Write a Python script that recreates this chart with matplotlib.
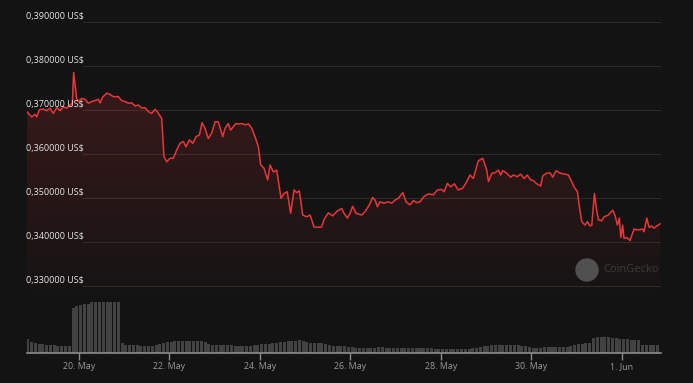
import numpy as np
import matplotlib
matplotlib.use("Agg")
import matplotlib.pyplot as plt
from matplotlib.patches import Ellipse

plt.rcParams['font.family'] = ['Open Sans', 'DejaVu Sans']

# price, hours since 18 May 00:00
price_hours = [20.4, 23.1, 24.8, 25.7, 27.1, 29.2, 31.0, 32.8, 34.5, 36.3, 38.1, 39.8, 41.6, 43.4,
               44.6, 45.3, 46.9, 47.8, 49.6, 51.3, 53.1, 54.9, 56.6, 58.4, 59.3, 60.7, 62.9, 64.6,
               66.4, 69.0, 70.8, 72.6, 74.3, 76.1, 77.9, 79.6, 81.4, 83.2, 84.9, 86.7, 88.5, 89.7,
               90.8, 92.0, 93.2, 94.7, 96.4, 98.2, 100.0, 101.7, 103.5, 104.9, 106.7, 108.5, 110.2,
               112.0, 113.4, 115.0, 116.7, 118.5, 120.3, 122.0, 124.4, 125.6, 127.3, 128.6, 130.0,
               131.4, 132.7, 134.5, 136.2, 138.0, 139.8, 141.5, 143.3, 144.5, 146.3, 148.2, 149.5,
               151.2, 153.0, 155.3, 156.9, 158.6, 160.4, 162.2, 163.6, 165.0, 166.8, 168.9, 170.7,
               172.8, 175.1, 176.9, 178.1, 180.4, 182.7, 184.8, 187.5, 188.7, 190.5, 191.9, 193.3,
               195.1, 198.1, 199.9, 202.1, 203.9, 205.2, 206.4, 207.8, 209.9, 212.2, 214.0, 215.8,
               217.5, 219.9, 221.6, 223.7, 225.5, 227.3, 229.0, 231.1, 233.4, 236.1, 238.2, 240.5,
               241.8, 243.5, 245.3, 247.2, 249.3, 251.7, 253.8, 255.5, 257.3, 259.9, 262.3, 264.4,
               265.3, 267.1, 268.8, 270.6, 271.8, 272.9, 275.0, 277.1, 278.5, 280.6, 282.4, 284.2,
               285.9, 287.4, 289.1, 290.9, 293.0, 294.1, 296.2, 298.0, 299.4, 301.2, 303.3, 305.9,
               307.7, 309.0, 310.7, 312.5, 313.5, 314.8, 316.5, 317.8, 319.2, 320.1, 321.5, 322.7,
               323.6, 325.4, 326.6, 328.9, 331.2, 332.4, 333.7, 334.7, 335.5, 336.5, 337.2, 338.7,
               340.4, 342.5, 344.8, 347.1, 347.8, 349.3, 350.5, 351.9, 353.1, 354.6, 356.3]
prices = [0.3697, 0.3685, 0.3691, 0.3685, 0.3701, 0.3703, 0.3699, 0.3705, 0.3693, 0.3706, 0.3699,
          0.3708, 0.3705, 0.3712, 0.3716, 0.3786, 0.3727, 0.3720, 0.3727, 0.3725, 0.3716, 0.3720,
          0.3722, 0.3725, 0.3717, 0.3730, 0.3739, 0.3736, 0.3731, 0.3731, 0.3722, 0.3720, 0.3716,
          0.3717, 0.3710, 0.3712, 0.3705, 0.3706, 0.3697, 0.3693, 0.3702, 0.3697, 0.3689, 0.3682,
          0.3595, 0.3583, 0.3591, 0.3591, 0.3610, 0.3625, 0.3629, 0.3617, 0.3633, 0.3625, 0.3640,
          0.3644, 0.3672, 0.3659, 0.3636, 0.3648, 0.3674, 0.3674, 0.3640, 0.3659, 0.3670, 0.3655,
          0.3663, 0.3670, 0.3669, 0.3670, 0.3667, 0.3669, 0.3659, 0.3640, 0.3617, 0.3576, 0.3568,
          0.3542, 0.3576, 0.3560, 0.3564, 0.3500, 0.3511, 0.3515, 0.3466, 0.3519, 0.3513, 0.3517,
          0.3462, 0.3458, 0.3462, 0.3435, 0.3434, 0.3435, 0.3452, 0.3467, 0.3460, 0.3470, 0.3477,
          0.3466, 0.3455, 0.3466, 0.3482, 0.3466, 0.3462, 0.3470, 0.3485, 0.3502, 0.3496, 0.3481,
          0.3492, 0.3489, 0.3492, 0.3489, 0.3496, 0.3500, 0.3513, 0.3492, 0.3485, 0.3495, 0.3490,
          0.3492, 0.3504, 0.3510, 0.3508, 0.3519, 0.3520, 0.3515, 0.3534, 0.3526, 0.3533, 0.3519,
          0.3523, 0.3538, 0.3553, 0.3545, 0.3585, 0.3591, 0.3564, 0.3538, 0.3557, 0.3558, 0.3564,
          0.3553, 0.3563, 0.3557, 0.3548, 0.3553, 0.3549, 0.3555, 0.3545, 0.3553, 0.3543, 0.3540,
          0.3533, 0.3528, 0.3551, 0.3557, 0.3558, 0.3548, 0.3563, 0.3557, 0.3555, 0.3553, 0.3542,
          0.3526, 0.3515, 0.3481, 0.3447, 0.3439, 0.3447, 0.3437, 0.3439, 0.3511, 0.3473, 0.3451,
          0.3449, 0.3458, 0.3462, 0.3473, 0.3462, 0.3439, 0.3455, 0.3411, 0.3439, 0.3409, 0.3411,
          0.3404, 0.3430, 0.3428, 0.3430, 0.3424, 0.3455, 0.3434, 0.3437, 0.3432, 0.3437, 0.3442]

# volume bars, one every 2 hours starting at hour 21 (million US$)
volumes = [28, 22, 20, 18, 18, 16, 16, 16, 14, 14, 14, 14, 90, 94, 96, 98, 98,
           102, 102, 102, 102, 102, 102, 102, 102, 20, 16, 16, 16, 16, 14, 14, 14, 14, 16, 18,
           20, 22, 22, 24, 24, 24, 24, 24, 24, 24, 24, 22, 18, 16, 16, 16, 16, 16, 16, 14, 14,
           14, 14, 14, 16, 16, 18, 18, 18, 20, 20, 22, 22, 24, 24, 24, 26, 24, 22, 20, 20, 20,
           20, 18, 16, 14, 14, 14, 14, 12, 12, 10, 10, 10, 10, 10, 10, 12, 12, 10,
           9, 9, 9, 9, 9, 9, 9, 9, 9, 9, 9, 9, 7, 7, 7, 7, 7, 7, 7, 7, 7, 7, 9,
           10, 12, 14, 14, 16, 16, 16, 16, 16, 16, 16, 16, 14, 14, 12, 10, 10, 10, 12,
           12, 12, 12, 12, 12, 12, 14, 16, 18, 18, 20, 20, 30, 32, 32, 32, 32, 30, 30,
           28, 28, 28, 26, 26, 26, 16, 16, 16, 16, 16]
vol_hours = [21 + 2 * i for i in range(len(volumes))]

tick_hours = [48, 96, 144, 192, 240, 288, 336]
tick_labels = ["20. May", "22. May", "24. May", "26. May", "28. May", "30. May", "1. Jun"]
grid_prices = [0.33, 0.34, 0.35, 0.36, 0.37, 0.38, 0.39]

bg = "#131313"
red = "#e8363a"

W, H = 693, 383
fig = plt.figure(figsize=(W / 100, H / 100), dpi=100, facecolor=bg)

x0, x1 = 20.3, 356.6
left = 26.5 / W
width = (660.6 - 26.5) / W

# price panel
ax = fig.add_axes([left, 1 - 290 / H, width, 275 / H])
ax.set_facecolor(bg)
ylo, yhi = 0.32916, 0.39166
ax.set_xlim(x0, x1)
ax.set_ylim(ylo, yhi)
for s in ax.spines.values():
    s.set_visible(False)
ax.set_xticks([])
ax.set_yticks([])

for g in grid_prices:
    ax.axhline(g, xmin=0.089, xmax=1, color="#2b2b2b", lw=0.8, zorder=1)
    ax.text(0, g + 0.0003, f"{g:.6f}".replace(".", ",") + " US$", transform=ax.get_yaxis_transform(),
            ha="left", va="bottom", fontsize=6.5, color="#e6e6e6", zorder=5)

# gradient fill under the line
poly = ax.fill_between(price_hours, prices, ylo, color="none", lw=0)
grad = np.zeros((200, 2, 4))
rgb = matplotlib.colors.to_rgb(red)
grad[:, :, 0], grad[:, :, 1], grad[:, :, 2] = rgb
grad[:, :, 3] = np.linspace(0.19, 0.02, 200)[:, None]
img = ax.imshow(grad, extent=[x0, x1, ylo, max(prices)], aspect="auto", origin="upper", zorder=2)
img.set_clip_path(poly.get_paths()[0], transform=ax.transData)
ax.set_xlim(x0, x1)
ax.set_ylim(ylo, yhi)

ax.plot(price_hours, prices, color=red, lw=1.1, zorder=4)

# watermark
fig.add_artist(Ellipse((587 / W, 1 - 270 / H), 22 / W, 22 / H, transform=fig.transFigure,
                       color="#505050", zorder=3))
fig.text(603 / W, 1 - 270 / H, "CoinGecko", fontsize=8, color="#3c3c3c", va="center", ha="left")

# volume panel
axv = fig.add_axes([left, 1 - 352.7 / H, width, 50.7 / H])
axv.set_facecolor("none")
axv.bar(vol_hours, volumes, width=1.6, color="#424242", edgecolor="none")
axv.set_xlim(x0, x1)
axv.set_ylim(0, max(volumes))
for k in ["top", "left", "right"]:
    axv.spines[k].set_visible(False)
axv.spines["bottom"].set_color("#8c8c8c")
axv.spines["bottom"].set_linewidth(1.2)
axv.set_yticks([])
axv.set_xticks(tick_hours)
axv.set_xticklabels(tick_labels)
axv.tick_params(axis="x", colors="#8c8c8c", labelcolor="#9a9a9a", labelsize=6.4,
                length=5, width=1, pad=2)

fig.savefig("out.png", dpi=100, facecolor=bg)
